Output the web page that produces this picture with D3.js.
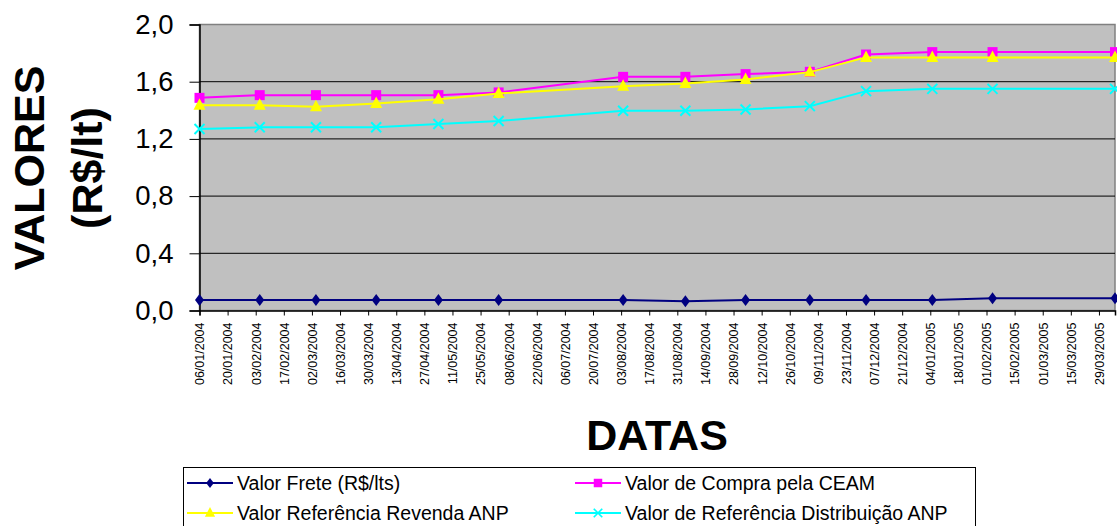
<!DOCTYPE html>
<html>
<head>
<meta charset="utf-8">
<script src="https://cdn.jsdelivr.net/npm/d3@7"></script>
<style>
  body { margin: 0; background: #fff; }
  svg { display: block; font-family: Arial, "Liberation Sans", sans-serif; }
</style>
</head>
<body>
<svg width="1117" height="526"></svg>
<script>
// data
const dates = [
  "06/01/2004", "05/02/2004", "04/03/2004", "03/04/2004", "04/05/2004",
  "03/06/2004", "04/08/2004", "04/09/2004", "04/10/2004", "05/11/2004",
  "03/12/2004", "05/01/2005", "04/02/2005", "06/04/2005",
];
const frete = [0.073, 0.073, 0.073, 0.073, 0.073, 0.073, 0.073, 0.065, 0.073, 0.073, 0.073, 0.073, 0.085, 0.085];
const compraCeam = [1.487, 1.506, 1.506, 1.506, 1.506, 1.525, 1.634, 1.634, 1.653, 1.669, 1.79, 1.807, 1.807, 1.807];
const revendaAnp = [1.436, 1.436, 1.425, 1.448, 1.478, 1.518, 1.569, 1.588, 1.616, 1.667, 1.77, 1.77, 1.77, 1.77];
const distribAnp = [1.269, 1.281, 1.281, 1.281, 1.304, 1.325, 1.397, 1.397, 1.406, 1.429, 1.534, 1.55, 1.55, 1.55];

const tickLabels = [
  "06/01/2004", "20/01/2004", "03/02/2004", "17/02/2004", "02/03/2004", "16/03/2004",
  "30/03/2004", "13/04/2004", "27/04/2004", "11/05/2004", "25/05/2004", "08/06/2004",
  "22/06/2004", "06/07/2004", "20/07/2004", "03/08/2004", "17/08/2004", "31/08/2004",
  "14/09/2004", "28/09/2004", "12/10/2004", "26/10/2004", "09/11/2004", "23/11/2004",
  "07/12/2004", "21/12/2004", "04/01/2005", "18/01/2005", "01/02/2005", "15/02/2005",
  "01/03/2005", "15/03/2005", "29/03/2005",
];
const yTicks = [0, 0.4, 0.8, 1.2, 1.6, 2.0];

const seriesNames = [
  "Valor Frete (R$/lts)",
  "Valor de Compra pela CEAM",
  "Valor Referência Revenda ANP",
  "Valor de Referência Distribuição ANP",
];
const seriesColors = ["#000080", "#FF00FF", "#FFFF00", "#00FFFF"];
const seriesMarkers = ["diamond", "square", "triangle", "cross"];

const parseDate = d3.utcParse("%d/%m/%Y");
const fmtY = (d) => d3.format(".1f")(d).replace(".", ",");

const svg = d3.select("svg");
const plot = { left: 199.5, right: 1115, top: 24.5, bottom: 310.5 };

const xScale = d3.scaleUtc()
  .domain([parseDate(dates[0]), parseDate(dates[dates.length - 1])])
  .range([plot.left, plot.right]);
const yScale = d3.scaleLinear().domain([0, 2]).range([plot.bottom, plot.top]);

const series = [frete, compraCeam, revendaAnp, distribAnp].map((vals, i) => ({
  name: seriesNames[i],
  color: seriesColors[i],
  marker: seriesMarkers[i],
  values: vals.map((v, j) => ({ date: parseDate(dates[j]), value: v })),
}));

// plot area
svg.append("rect")
  .attr("x", plot.left).attr("y", plot.top)
  .attr("width", plot.right - plot.left).attr("height", plot.bottom - plot.top)
  .attr("fill", "#C0C0C0").attr("stroke", "#808080").attr("stroke-width", 1.5);

// gridlines
svg.append("g")
  .selectAll("line")
  .data(yTicks.filter((d) => d > 0 && d < 2))
  .enter()
  .append("line")
  .attr("x1", plot.left).attr("x2", plot.right)
  .attr("y1", (d) => yScale(d)).attr("y2", (d) => yScale(d))
  .attr("stroke", "#000").attr("stroke-width", 1);

// y axis
const yAxis = svg.append("g")
  .attr("transform", `translate(${plot.left},0)`)
  .call(d3.axisLeft(yScale).tickValues(yTicks).tickSize(10).tickPadding(16).tickFormat(fmtY));
yAxis.select(".domain").attr("stroke", "#000").attr("stroke-width", 1.5);
yAxis.selectAll(".tick line").attr("stroke", "#000");
yAxis.selectAll("text")
  .attr("font-size", 27.5).attr("font-family", "Arial, 'Liberation Sans', sans-serif")
  .attr("fill", "#000");

// x axis
const xAxis = svg.append("g")
  .attr("transform", `translate(0,${plot.bottom})`)
  .call(d3.axisBottom(xScale)
    .tickValues(tickLabels.map(parseDate))
    .tickSize(5)
    .tickFormat(d3.utcFormat("%d/%m/%Y")));
xAxis.select(".domain").attr("stroke", "#000").attr("stroke-width", 1.5);
xAxis.selectAll(".tick line").attr("stroke", "#000");
xAxis.selectAll("text")
  .attr("font-size", 12.5).attr("font-family", "Arial, 'Liberation Sans', sans-serif")
  .attr("fill", "#000")
  .attr("text-anchor", "end")
  .attr("dy", "0.35em")
  .attr("transform", "rotate(-90)")
  .attr("x", -12).attr("y", 0);

// markers
function markerPath(type) {
  if (type === "diamond") return "M0,-6L4.5,0L0,6L-4.5,0Z";
  if (type === "square") return "M-5,-5H5V5H-5Z";
  if (type === "triangle") return "M0,-7L6,4.5L-6,4.5Z";
  return "M-5,-5L5,5M5,-5L-5,5";
}

const line = d3.line()
  .x((d) => xScale(d.date))
  .y((d) => yScale(d.value));

series.forEach((s) => {
  const g = svg.append("g");
  g.append("path")
    .attr("d", line(s.values))
    .attr("fill", "none")
    .attr("stroke", s.color)
    .attr("stroke-width", 2);
  g.selectAll("path.mk")
    .data(s.values)
    .enter()
    .append("path")
    .attr("class", "mk")
    .attr("transform", (d) => `translate(${xScale(d.date)},${yScale(d.value)})`)
    .attr("d", markerPath(s.marker))
    .attr("fill", s.marker === "cross" ? "none" : s.color)
    .attr("stroke", s.color)
    .attr("stroke-width", s.marker === "cross" ? 2 : 0);
});

// axis titles
const yTitle = svg.append("text")
  .attr("transform", "translate(44,168) rotate(-90)")
  .attr("text-anchor", "middle")
  .attr("font-weight", "bold")
  .attr("font-size", 43)
  .attr("fill", "#000");
yTitle.append("tspan").attr("x", 0).attr("y", 0).text("VALORES");
yTitle.append("tspan").attr("x", 0).attr("y", 58).text("(R$/lt)");

svg.append("text")
  .attr("x", 657).attr("y", 450)
  .attr("text-anchor", "middle")
  .attr("font-weight", "bold")
  .attr("font-size", 43)
  .attr("fill", "#000")
  .text("DATAS");

// legend
const legend = svg.append("g");
legend.append("rect")
  .attr("x", 183.5).attr("y", 467.5)
  .attr("width", 792).attr("height", 70)
  .attr("fill", "#fff").attr("stroke", "#000").attr("stroke-width", 1);

const legendPos = [
  { x: 187, y: 483 },
  { x: 575, y: 483 },
  { x: 187, y: 513 },
  { x: 575, y: 513 },
];

series.forEach((s, i) => {
  const p = legendPos[i];
  const item = legend.append("g").attr("transform", `translate(${p.x},${p.y})`);
  item.append("line")
    .attr("x1", 0).attr("x2", 46).attr("y1", 0).attr("y2", 0)
    .attr("stroke", s.color).attr("stroke-width", 2);
  item.append("path")
    .attr("transform", "translate(23,0) scale(0.85)")
    .attr("d", markerPath(s.marker))
    .attr("fill", s.marker === "cross" ? "none" : s.color)
    .attr("stroke", s.color)
    .attr("stroke-width", s.marker === "cross" ? 2 : 0);
  item.append("text")
    .attr("x", 50).attr("y", 0).attr("dy", "0.35em")
    .attr("font-size", 19.5)
    .attr("fill", "#000")
    .text(s.name);
});
</script>
</body>
</html>
